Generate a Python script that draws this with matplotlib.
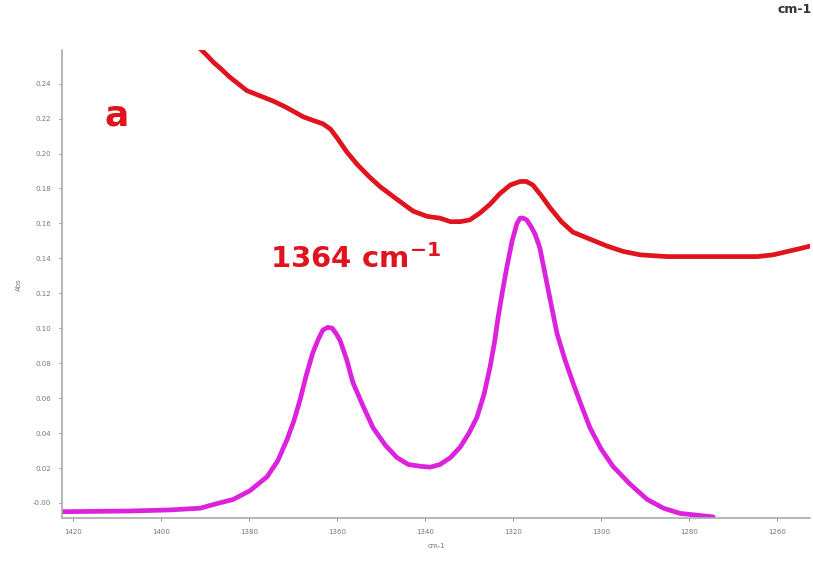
import numpy as np
import matplotlib.pyplot as plt

# upper trace (red)
red_wn = [1391.1, 1389.5, 1388.0, 1386.6, 1384.5, 1382.5, 1380.5, 1378.5,
          1376.5, 1374.5, 1372.0, 1369.8, 1367.7, 1365.5, 1363.2, 1361.5,
          1360.0, 1357.8, 1355.5, 1352.8, 1350.2, 1346.5, 1342.7, 1339.5,
          1336.6, 1334.2, 1332.0, 1329.8, 1327.5, 1325.2, 1323.0, 1320.6,
          1318.4, 1317.0, 1315.5, 1313.6, 1311.6, 1309.0, 1306.4, 1302.5,
          1298.6, 1295.0, 1291.1, 1285.0, 1279.8, 1272.0, 1264.5, 1260.9,
          1257.5, 1254.1, 1252.5]
red_abs = [0.260, 0.256, 0.252, 0.249, 0.244, 0.240, 0.236, 0.234,
           0.232, 0.230, 0.227, 0.224, 0.221, 0.219, 0.217, 0.214,
           0.209, 0.201, 0.194, 0.187, 0.181, 0.174, 0.167, 0.164,
           0.163, 0.161, 0.161, 0.162, 0.166, 0.171, 0.177, 0.182,
           0.184, 0.184, 0.182, 0.176, 0.169, 0.161, 0.155, 0.151,
           0.147, 0.144, 0.142, 0.141, 0.141, 0.141, 0.141, 0.142,
           0.144, 0.146, 0.147]

# lower trace (magenta)
mag_wn = [1422.5, 1407.0, 1398.0, 1391.1, 1387.5, 1383.6, 1379.8, 1375.9,
          1373.5, 1371.4, 1369.8, 1368.4, 1367.0, 1365.5, 1364.2, 1363.2,
          1362.1, 1361.1, 1360.2, 1359.3, 1357.8, 1356.4, 1354.0, 1351.8,
          1349.0, 1346.4, 1343.8, 1341.1, 1338.8, 1336.6, 1334.2, 1332.0,
          1330.0, 1328.2, 1326.6, 1325.2, 1324.2, 1323.4, 1322.4, 1321.4,
          1320.2, 1319.1, 1318.4, 1317.7, 1316.9, 1316.1, 1315.0, 1313.9,
          1312.0, 1310.0, 1308.2, 1306.4, 1304.5, 1302.5, 1300.0, 1297.3,
          1293.5, 1289.5, 1285.8, 1282.0, 1278.2, 1274.5]
mag_abs = [-0.005, -0.0046, -0.004, -0.003, -0.0005, 0.002, 0.007, 0.015,
           0.024, 0.036, 0.047, 0.059, 0.073, 0.086, 0.094, 0.099,
           0.1005, 0.100, 0.097, 0.093, 0.082, 0.069, 0.055, 0.043,
           0.033, 0.026, 0.022, 0.021, 0.0205, 0.022, 0.026, 0.032,
           0.040, 0.049, 0.062, 0.078, 0.092, 0.106, 0.121, 0.135,
           0.150, 0.160, 0.163, 0.163, 0.162, 0.159, 0.154, 0.146,
           0.122, 0.097, 0.082, 0.069, 0.056, 0.043, 0.031, 0.021,
           0.011, 0.002, -0.003, -0.006, -0.007, -0.008]

x_ticks = [1420, 1400, 1380, 1360, 1340, 1320, 1300, 1280, 1260]
y_ticks = [0.00, 0.02, 0.04, 0.06, 0.08, 0.10, 0.12, 0.14, 0.16, 0.18, 0.20, 0.22, 0.24]
y_labels = ["-0.00", "0.02", "0.04", "0.06", "0.08", "0.10", "0.12",
            "0.14", "0.16", "0.18", "0.20", "0.22", "0.24"]

fig = plt.figure(figsize=(8.13, 5.64), dpi=100)
ax = fig.add_axes([0.0763, 0.0816, 0.92, 0.829])

ax.plot(red_wn, red_abs, color='#e0141e', lw=3.4,
        solid_capstyle='round', solid_joinstyle='round')
ax.plot(mag_wn, mag_abs, color='#dc22dc', lw=3.4,
        solid_capstyle='round', solid_joinstyle='round')

ax.set_xlim(1422.5, 1252.5)
ax.set_ylim(-0.0086, 0.259)

ax.set_xticks(x_ticks)
ax.set_xticklabels([str(t) for t in x_ticks])
ax.set_yticks(y_ticks)
ax.set_yticklabels(y_labels)
ax.tick_params(labelsize=5, colors='#777777', length=2, width=0.6, pad=6)

for side in ['top', 'right']:
    ax.spines[side].set_visible(False)
for side in ['left', 'bottom']:
    ax.spines[side].set_color('#aaaaaa')
    ax.spines[side].set_linewidth(1.2)

ax.set_xlabel("cm-1", fontsize=5, color='#777777', labelpad=6)
ax.set_ylabel("Abs", fontsize=5, color='#777777', labelpad=8)

ax.text(0.057, 0.84, "a", transform=ax.transAxes, fontsize=26,
        color='#e0141e', fontweight='bold')
ax.text(0.278, 0.535, r"1364 cm$^{\mathbf{-1}}$", transform=ax.transAxes,
        fontsize=21, color='#e0141e', fontweight='bold')

fig.text(0.999, 0.995, "cm-1", fontsize=9, fontweight='bold', color='#333333',
         ha='right', va='top')

fig.savefig("out.png", dpi=100)
